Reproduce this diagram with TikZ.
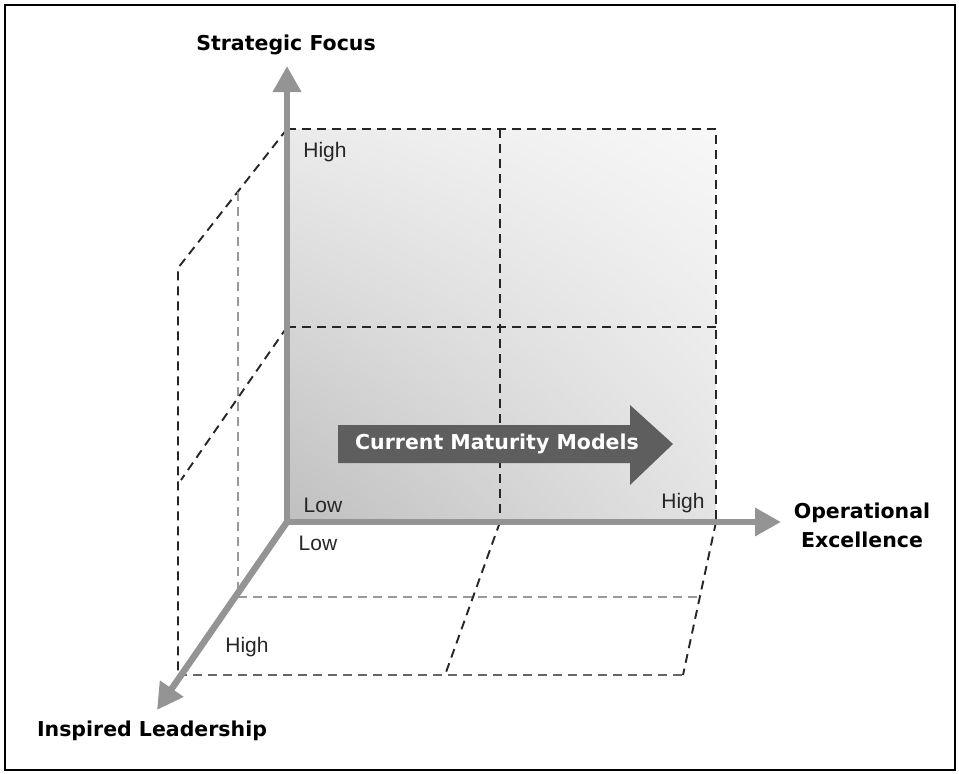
\documentclass[tikz,border=0pt]{standalone}
\usepackage{fontspec}
\setmainfont{Liberation Sans}
\newfontfamily\headfont{DejaVu Sans}
\usetikzlibrary{positioning,arrows.meta,calc,shadings}

\begin{document}
\begin{tikzpicture}[x=1pt,y=-1pt,
    axis/.style={draw=black!42,line width=6.5pt,-{Triangle[length=26pt,width=27pt]}},
    grid line/.style={dash pattern=on 9pt off 6pt,line width=1.9pt,draw=black!85},
    faint line/.style={grid line,draw=black!40},
    title/.style={font=\headfont\bfseries\fontsize{20.5}{29}\selectfont,align=center},
    level/.style={font=\fontsize{21}{24}\selectfont,text=black!85}
   ]
  \useasboundingbox (0,0) rectangle (959,774);
  \draw[line width=2pt] (5,5) rectangle (955,770);

  % front plane
  \shade[lower left=black!25,upper left=black!8,upper right=black!3,lower right=black!11]
    (287,129) rectangle (716,522);

  \coordinate (o) at (287,522);
  \coordinate (sfTip) at (287,66);
  \coordinate (oeTip) at (781,522);
  \coordinate (ilTip) at (157,710);

  \draw[grid line] (287,129) -- (716,129) -- (716,522);
  \draw[grid line] (287,327) -- (716,327);
  \draw[grid line] (500,129) -- (500,522);

  % side plane
  \draw[grid line] (287,129) -- (178,268) -- (178,675);
  \draw[faint line] (238,192) -- (238,597);
  \draw[grid line] (287,327) -- (181,480);

  % floor
  \draw[faint line] (238,597) -- (700,597);
  \draw[grid line,draw=black!60] (178,675) -- (683,675);
  \draw[grid line] (500,522) -- (445,675);
  \draw[grid line] (716,522) -- (683,675);

  \draw[axis] ($(o)+(0,3)$) -- (sfTip);
  \draw[axis] ($(o)+(-3,0)$) -- (oeTip);
  \draw[axis] (o) -- (ilTip);

  \fill[black!63] (338,425) -- (630,425) -- (630,405) -- (673,444)
                  -- (630,485) -- (630,463) -- (338,463) -- cycle;
  \node[title,text=white] (cmm) at (497,444) {Current Maturity Models};

  \node[title] (sf) at (286,45) {Strategic Focus};
  \node[title] (oe) at (862,525) {Operational\\Excellence};
  \node[title] (il) at (152,731) {Inspired Leadership};

  \node[level] (sfHigh) at (325,152) {High};
  \node[level] (oeLow) at (323,505) {Low};
  \node[level] (ilLow) at (318,543) {Low};
  \node[level] (ilHigh) at (247,647) {High};
  \node[level] (oeHigh) at (683,503) {High};
\end{tikzpicture}
\end{document}
